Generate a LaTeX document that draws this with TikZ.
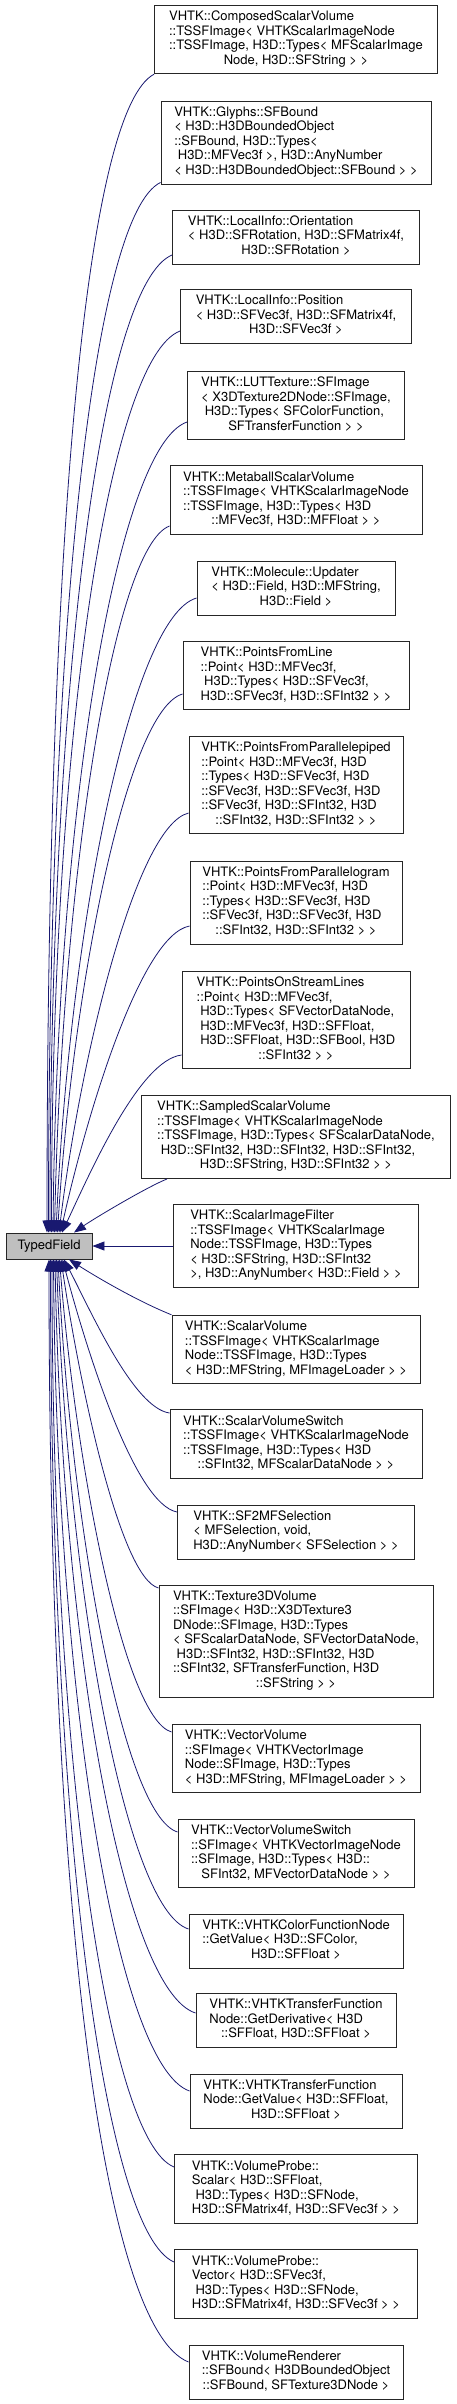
\documentclass[tikz,border=0pt]{standalone}
\usepackage{fontspec}
\setmainfont{TeX Gyre Heros}
\usepackage{xcolor}
\usepackage{tikz}
\usetikzlibrary{arrows.meta}
\definecolor{edgeblue}{RGB}{25,25,112}
\definecolor{basegray}{RGB}{191,191,191}
\newcommand{\lastln}[1]{\multicolumn{1}{@{}c@{}}{#1}}

\begin{document}
\begin{tikzpicture}[x=1pt,y=-1pt,font=\fontsize{13}{14.5}\selectfont,
        cls/.style={rectangle,draw=black!85,line width=0.9pt,minimum width=#1,inner xsep=0pt,inner ysep=5.25pt},
        base/.style={rectangle,draw=black!85,line width=0.9pt,fill=basegray,minimum width=86pt,minimum height=26pt,inner sep=0pt},
        inh/.style={draw=edgeblue,line width=0.8pt,-{Triangle[length=12pt,width=9pt]}}]
    \useasboundingbox (0,0) rectangle (456,2404);
    \node[base] (TF) at (49,1246) {TypedField};
    \node[cls=283pt] (D1) at (296,39.5) {\begin{tabular}{@{}l@{}}VHTK::ComposedScalarVolume\\::TSSFImage< VHTKScalarImageNode\\::TSSFImage, H3D::Types< MFScalarImage\\\lastln{Node, H3D::SFString > >}\end{tabular}};
    \node[cls=270pt] (D2) at (296,142.5) {\begin{tabular}{@{}l@{}}VHTK::Glyphs::SFBound\\< H3D::H3DBoundedObject\\::SFBound, H3D::Types<\\\ H3D::MFVec3f >, H3D::AnyNumber\\\lastln{< H3D::H3DBoundedObject::SFBound > >}\end{tabular}};
    \node[cls=247pt] (D3) at (296,237) {\begin{tabular}{@{}l@{}}VHTK::LocalInfo::Orientation\\< H3D::SFRotation, H3D::SFMatrix4f,\\\lastln{H3D::SFRotation >}\end{tabular}};
    \node[cls=231pt] (D4) at (296,316.5) {\begin{tabular}{@{}l@{}}VHTK::LocalInfo::Position\\< H3D::SFVec3f, H3D::SFMatrix4f,\\\lastln{H3D::SFVec3f >}\end{tabular}};
    \node[cls=217pt] (D5) at (296,405.5) {\begin{tabular}{@{}l@{}}VHTK::LUTTexture::SFImage\\< X3DTexture2DNode::SFImage,\\\ H3D::Types< SFColorFunction,\\\lastln{SFTransferFunction > >}\end{tabular}};
    \node[cls=252pt] (D6) at (296,500) {\begin{tabular}{@{}l@{}}VHTK::MetaballScalarVolume\\::TSSFImage< VHTKScalarImageNode\\::TSSFImage, H3D::Types< H3D\\\lastln{::MFVec3f, H3D::MFFloat > >}\end{tabular}};
    \node[cls=198pt] (D7) at (296,588) {\begin{tabular}{@{}l@{}}VHTK::Molecule::Updater\\< H3D::Field, H3D::MFString,\\\lastln{H3D::Field >}\end{tabular}};
    \node[cls=226pt] (D8) at (296,675.5) {\begin{tabular}{@{}l@{}}VHTK::PointsFromLine\\::Point< H3D::MFVec3f,\\\ H3D::Types< H3D::SFVec3f,\\\lastln{H3D::SFVec3f, H3D::SFInt32 > >}\end{tabular}};
    \node[cls=214pt] (D9) at (296,785) {\begin{tabular}{@{}l@{}}VHTK::PointsFromParallelepiped\\::Point< H3D::MFVec3f, H3D\\::Types< H3D::SFVec3f, H3D\\::SFVec3f, H3D::SFVec3f, H3D\\::SFVec3f, H3D::SFInt32, H3D\\\lastln{::SFInt32, H3D::SFInt32 > >}\end{tabular}};
    \node[cls=212pt] (D10) at (296,902.5) {\begin{tabular}{@{}l@{}}VHTK::PointsFromParallelogram\\::Point< H3D::MFVec3f, H3D\\::Types< H3D::SFVec3f, H3D\\::SFVec3f, H3D::SFVec3f, H3D\\\lastln{::SFInt32, H3D::SFInt32 > >}\end{tabular}};
    \node[cls=228pt] (D11) at (296,1020) {\begin{tabular}{@{}l@{}}VHTK::PointsOnStreamLines\\::Point< H3D::MFVec3f,\\\ H3D::Types< SFVectorDataNode,\\\ H3D::MFVec3f, H3D::SFFloat,\\\ H3D::SFFloat, H3D::SFBool, H3D\\\lastln{::SFInt32 > >}\end{tabular}};
    \node[cls=309pt] (D12) at (296,1137) {\begin{tabular}{@{}l@{}}VHTK::SampledScalarVolume\\::TSSFImage< VHTKScalarImageNode\\::TSSFImage, H3D::Types< SFScalarDataNode,\\\ H3D::SFInt32, H3D::SFInt32, H3D::SFInt32,\\\lastln{H3D::SFString, H3D::SFInt32 > >}\end{tabular}};
    \node[cls=245pt] (D13) at (296,1246) {\begin{tabular}{@{}l@{}}VHTK::ScalarImageFilter\\::TSSFImage< VHTKScalarImage\\Node::TSSFImage, H3D::Types\\< H3D::SFString, H3D::SFInt32\\\lastln{>, H3D::AnyNumber< H3D::Field > >}\end{tabular}};
    \node[cls=248pt] (D14) at (296,1349.5) {\begin{tabular}{@{}l@{}}VHTK::ScalarVolume\\::TSSFImage< VHTKScalarImage\\Node::TSSFImage, H3D::Types\\\lastln{< H3D::MFString, MFImageLoader > >}\end{tabular}};
    \node[cls=252pt] (D15) at (296,1444) {\begin{tabular}{@{}l@{}}VHTK::ScalarVolumeSwitch\\::TSSFImage< VHTKScalarImageNode\\::TSSFImage, H3D::Types< H3D\\\lastln{::SFInt32, MFScalarDataNode > >}\end{tabular}};
    \node[cls=237pt] (D16) at (296,1532) {\begin{tabular}{@{}l@{}}VHTK::SF2MFSelection\\< MFSelection, void,\\\lastln{H3D::AnyNumber< SFSelection > >}\end{tabular}};
    \node[cls=274pt] (D17) at (296,1641) {\begin{tabular}{@{}l@{}}VHTK::Texture3DVolume\\::SFImage< H3D::X3DTexture3\\DNode::SFImage, H3D::Types\\< SFScalarDataNode, SFVectorDataNode,\\\ H3D::SFInt32, H3D::SFInt32, H3D\\::SFInt32, SFTransferFunction, H3D\\\lastln{::SFString > >}\end{tabular}};
    \node[cls=248pt] (D18) at (296,1758.5) {\begin{tabular}{@{}l@{}}VHTK::VectorVolume\\::SFImage< VHTKVectorImage\\Node::SFImage, H3D::Types\\\lastln{< H3D::MFString, MFImageLoader > >}\end{tabular}};
    \node[cls=236pt] (D19) at (296,1853.5) {\begin{tabular}{@{}l@{}}VHTK::VectorVolumeSwitch\\::SFImage< VHTKVectorImageNode\\::SFImage, H3D::Types< H3D::\\\lastln{SFInt32, MFVectorDataNode > >}\end{tabular}};
    \node[cls=214pt] (D20) at (296,1941) {\begin{tabular}{@{}l@{}}VHTK::VHTKColorFunctionNode\\::GetValue< H3D::SFColor,\\\lastln{H3D::SFFloat >}\end{tabular}};
    \node[cls=200pt] (D21) at (296,2020.5) {\begin{tabular}{@{}l@{}}VHTK::VHTKTransferFunction\\Node::GetDerivative< H3D\\\lastln{::SFFloat, H3D::SFFloat >}\end{tabular}};
    \node[cls=212pt] (D22) at (296,2101) {\begin{tabular}{@{}l@{}}VHTK::VHTKTransferFunction\\Node::GetValue< H3D::SFFloat,\\\lastln{H3D::SFFloat >}\end{tabular}};
    \node[cls=243pt] (D23) at (296,2189) {\begin{tabular}{@{}l@{}}VHTK::VolumeProbe::\\Scalar< H3D::SFFloat,\\\ H3D::Types< H3D::SFNode,\\\lastln{H3D::SFMatrix4f, H3D::SFVec3f > >}\end{tabular}};
    \node[cls=243pt] (D24) at (296,2284) {\begin{tabular}{@{}l@{}}VHTK::VolumeProbe::\\Vector< H3D::SFVec3f,\\\ H3D::Types< H3D::SFNode,\\\lastln{H3D::SFMatrix4f, H3D::SFVec3f > >}\end{tabular}};
    \node[cls=214pt] (D25) at (296,2372) {\begin{tabular}{@{}l@{}}VHTK::VolumeRenderer\\::SFBound< H3DBoundedObject\\\lastln{::SFBound, SFTexture3DNode >}\end{tabular}};
    \draw[inh] (D1.south west) .. controls +(-66,35) and +(0,-719) .. ([xshift=-2pt]TF.north);
    \draw[inh] ([yshift=2pt]D2.south west) .. controls +(-66,32) and +(0,-620) .. ([xshift=-0.5pt]TF.north);
    \draw[inh] ([yshift=-18pt]D3.west) .. controls +(-70,29) and +(0,-557) .. ([xshift=1pt]TF.north);
    \draw[inh] ([yshift=-14.5pt]D4.west) .. controls +(-71,27) and +(0,-496) .. ([xshift=2.5pt]TF.north);
    \draw[inh] ([yshift=-16.5pt]D5.west) .. controls +(-70,24) and +(4,-422) .. ([xshift=4pt]TF.north);
    \draw[inh] ([yshift=-26pt]D6.west) .. controls +(-57,21) and +(7,-346) .. ([xshift=5.5pt]TF.north);
    \draw[inh] ([yshift=-10pt]D7.west) .. controls +(-66,19) and +(13,-298) .. ([xshift=7pt]TF.north);
    \draw[inh] ([yshift=-18.5pt]D8.west) .. controls +(-56,16) and +(15,-243) .. ([xshift=8.5pt]TF.north);
    \draw[inh] ([yshift=-28pt]D9.west) .. controls +(-53,13) and +(21,-172) .. ([xshift=10pt]TF.north);
    \draw[inh] ([yshift=-23.5pt]D10.west) .. controls +(-49,9) and +(26,-117) .. ([xshift=11.5pt]TF.north);
    \draw[inh] ([yshift=-35pt]D11.west) .. controls +(-42,5) and +(29,-62) .. ([xshift=13pt]TF.north);
    \draw[inh] ([xshift=26pt]D12.south west) .. controls +(-20,8) and +(20,-14) .. ([xshift=25pt]TF.north);
    \draw[inh] (D13) -- (TF);
    \draw[inh] (D14.north west) .. controls +(-35,-14) and +(25,16) .. ([xshift=20pt]TF.south);
    \draw[inh] ([yshift=31pt]D15.west) .. controls +(-36,-5) and +(27,52) .. ([xshift=15pt]TF.south);
    \draw[inh] ([yshift=20pt]D16.west) .. controls +(-42,-8) and +(25,94) .. ([xshift=13.5pt]TF.south);
    \draw[inh] ([yshift=53pt]D17.west) .. controls +(-38,-10) and +(19,128) .. ([xshift=12pt]TF.south);
    \draw[inh] ([yshift=26.5pt]D18.west) .. controls +(-48,-14) and +(16,203) .. ([xshift=10.5pt]TF.south);
    \draw[inh] ([yshift=21.5pt]D19.west) .. controls +(-55,-17) and +(13,264) .. ([xshift=9pt]TF.south);
    \draw[inh] ([yshift=12pt]D20.west) .. controls +(-64,-20) and +(11,322) .. ([xshift=7.5pt]TF.south);
    \draw[inh] ([yshift=7.5pt]D21.west) .. controls +(-72,-23) and +(7,385) .. ([xshift=6pt]TF.south);
    \draw[inh] ([yshift=10pt]D22.west) .. controls +(-72,-25) and +(3,441) .. ([xshift=4.5pt]TF.south);
    \draw[inh] ([yshift=22pt]D23.west) .. controls +(-67,-27) and +(0,499) .. ([xshift=3pt]TF.south);
    \draw[inh] ([yshift=22pt]D24.west) .. controls +(-70,-30) and +(0,572) .. ([xshift=1.5pt]TF.south);
    \draw[inh] ([yshift=10pt]D25.west) .. controls +(-84,-33) and +(0,662) .. (TF.south);
\end{tikzpicture}
\end{document}
